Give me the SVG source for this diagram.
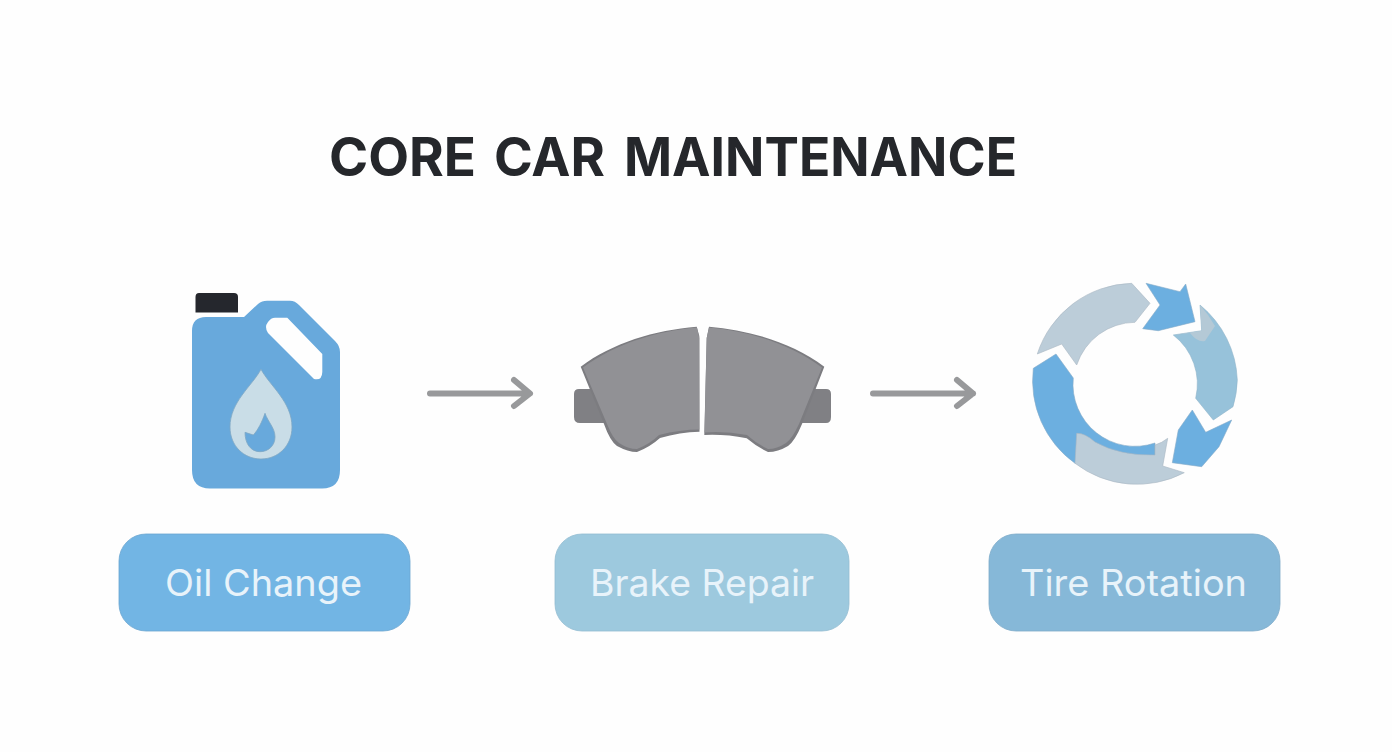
<svg xmlns="http://www.w3.org/2000/svg" width="1392" height="752" viewBox="0 0 1392 752">
<style>
.label{font-family:"Inter","Liberation Sans",sans-serif;font-size:37px;fill:#e8f3fa;text-anchor:start}
.title{font-family:"Inter","Liberation Sans",sans-serif;font-size:53px;font-weight:700;fill:#25272b}
.edge{fill:#7c7c80}
.face{fill:#919195}
.tab{fill:#808084}
.flow{fill:none;stroke:#98999b;stroke-width:6;stroke-linecap:round;stroke-linejoin:round}
.blue{fill:#6cafe0;stroke:#86abc8;stroke-width:0.600}
.grey{fill:#bccdd9;stroke:#a9b7c2;stroke-width:0.600}
</style>
<rect width="1392" height="752" fill="#fefefe"/>
<text class="title" y="176"><tspan x="329" textLength="147" lengthAdjust="spacingAndGlyphs">CORE</tspan><tspan x="494" textLength="111" lengthAdjust="spacingAndGlyphs">CAR</tspan><tspan x="624" textLength="393" lengthAdjust="spacingAndGlyphs">MAINTENANCE</tspan></text>
<g id="connectors">
<path class="flow" d="M430 393.500H529M514 380L530 393.500L514 406"/>
<path class="flow" d="M873 393.500H973M957 380L973 393.500L957 406"/>
</g>
<g id="oil-change">
<path d="M199 293H234Q238 293 238 297V312.500H195.500V297Q195.500 293 199 293Z" fill="#25272d"/>
<path d="M206 317H244L258 304Q262 300.700 267 300.700H290Q295 300.700 299 305L335 341Q340 346 340 352V470Q340 488.500 322 488.500H210Q192 488.500 192 470V331Q192 317 206 317Z" fill="#68a9dc"/>
<path d="M275 317.700H287.300L322.300 354V372Q322 381 314 379L268 333Q264 327 268 322Q271 317.700 275 317.700Z" fill="#fefefe"/>
<path d="M261 369.300C270 386 292 402 292 427C292 446 278 459 261 459C244 459 230 446 230 427C230 402 252 386 261 369.300Z" fill="#c9dde7" stroke="#7da7c4" stroke-width="0.800"/>
<path d="M265 413.300C268 422 275 428 275 437C275 446 268 451.700 260 451.700C251 451.700 245 444 245 432.300L253.300 435C258 430 262 422 265 413.300Z" fill="#68a9dc" stroke="#7da7c4" stroke-width="0.800"/>
<rect x="119" y="534" width="291" height="97" rx="27" fill="#72b5e4" stroke="#6ba6d0" stroke-width="0.800"/>
<text class="label" x="165" y="596" textLength="197" lengthAdjust="spacingAndGlyphs">Oil Change</text>
</g>
<g id="brake-repair">
<path class="tab" d="M592 389H579Q574 389 574 394V417Q574 423 580 423H606ZM813 389H826Q831 389 831 394V417Q831 423 826 423H800Z"/>
<path class="edge" d="M696.700 326.700C655 330 612 343 580.700 366.700L604 424Q610 441 617 446Q628 452 637 452Q650 447 660 438Q680 432 699.500 431.700L699.300 336ZM709 326.700C750 330 793 343 824.300 366.700L802 424Q795 441 788 446Q778 452 768 452Q757 447 746.700 438.300Q725 434 704.300 435L706.700 338Z"/>
<path class="face" d="M697 327.500C656 331 615 344 583 367.500L607 424Q613 439 619 443Q628 449 637 449Q650 444 659 435Q680 429.500 699.300 429.500L699.300 338ZM709 327.500C749 331 790 344 822 367.500L799 424Q792 439 786 443Q777 449 768 449Q757 444 747 435Q725 431 704.500 432.500L706.700 338Z"/>
<rect x="555" y="534" width="294" height="97" rx="27" fill="#9dc9de" stroke="#93bcd2" stroke-width="0.800"/>
<text class="label" x="590" y="596" textLength="224" lengthAdjust="spacingAndGlyphs">Brake Repair</text>
</g>
<g id="tire-rotation">
<path class="blue" d="M1056 354L1073.300 378A62 62 0 0 0 1155 443L1155 456L1075 463.300A102 102 0 0 1 1033.300 368.300Z"/>
<path class="grey" d="M1037.300 354A102 102 0 0 1 1131.700 283.300L1150 303.300L1135 322.300A62 62 0 0 0 1076.700 365L1061.700 344Z"/>
<path class="blue" d="M1146 283.300L1180 291.700L1185.700 284L1195 321.700L1158.300 330.700L1142.700 328.700L1160 305Z"/>
<path d="M1200 305A102 102 0 0 1 1237.300 380A102 102 0 0 1 1233 406.700L1213.300 420L1195.700 398.300A62 62 0 0 0 1173.300 335L1201.700 330.700Z" fill="#97c2da" stroke="#8fb3c9" stroke-width="0.600"/>
<path d="M1200 305Q1209 315 1215 326L1205 341Q1198 343 1190 333L1173.300 335L1201.700 330.700Z" fill="#b4c9d6"/>
<path class="blue" d="M1192.300 410L1205.700 432.300L1231.700 420L1219 446.700L1201.700 466.700L1172.300 462.700L1178.300 430Z"/>
<path class="grey" d="M1076.700 433.300Q1085 433 1095 442Q1120 456 1155 455L1155 445Q1162 443 1167.700 438.300L1162.700 466L1184.300 472.700A102 102 0 0 1 1075 463.300Z"/>
<rect x="989" y="534" width="291" height="97" rx="27" fill="#86b8d8" stroke="#7dabc9" stroke-width="0.800"/>
<text class="label" x="1020" y="596" textLength="227" lengthAdjust="spacingAndGlyphs">Tire Rotation</text>
</g>
</svg>
